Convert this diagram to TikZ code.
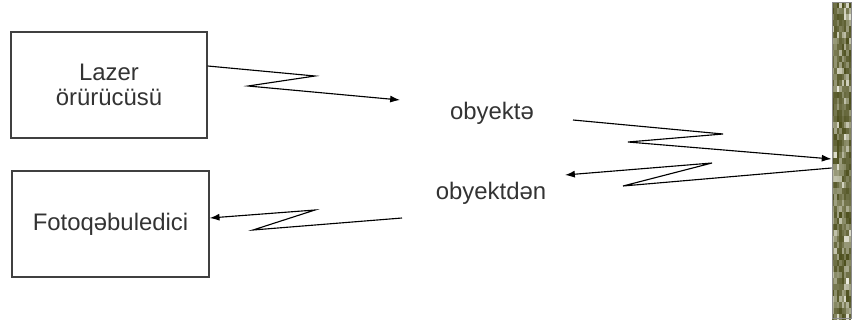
\documentclass[tikz,border=0pt]{standalone}
\usepackage{fontspec}
\setmainfont{Liberation Sans}
\usetikzlibrary{arrows.meta}

\definecolor{wallDark}{RGB}{76,78,28}
\definecolor{wallLight}{RGB}{238,238,226}

\begin{document}
\begin{tikzpicture}[x=0.025cm,y=-0.025cm,>={Latex[length=7pt,width=5pt]},
    every node/.style={font=\fontsize{17}{18}\selectfont, text=black!80},
    unit/.style={draw=black!75, line width=0.9pt, align=center, minimum height=2.65cm},
    beam/.style={->, line width=0.8pt, line join=miter},
    label/.style={inner sep=0pt}]
  \useasboundingbox (0,0) rectangle (853,322);

  % wall texture
  \pgfmathsetseed{11}
  \foreach \i in {0,...,7}{
    \foreach \j in {0,...,52}{
      \pgfmathsetmacro{\mix}{int(100*(rnd)^0.4)}
      \fill[wallDark!\mix!wallLight] (832+2.375*\i,2+6*\j) rectangle ++(2.375,6);
    }
  }

  \node (laser) [unit, minimum width=4.9cm] at (109,85) {Lazer\\örürücüsü};
  \node (receiver) [unit, minimum width=4.925cm] at (110.5,224) {Fotoqəbuledici};
  \node (wall) [draw=black!45, line width=0.6pt, minimum width=0.475cm, minimum height=7.9cm, inner sep=0pt] at (841.5,160) {};
  \node (tolabel) [label] at (492,113) {obyektə};
  \node (fromlabel) [label] at (491,193) {obyektdən};

  \coordinate (laserout) at (400,100);
  \coordinate (objin) at (573,120);
  \coordinate (objout) at (565,175);
  \coordinate (recin) at (402,218);

  \draw[beam] ([yshift=0.475cm]laser.east) -- (315,76) -- (248,86) -- (laserout);
  \draw[beam] (objin) -- (723,134) -- (628,142) -- ([yshift=0.025cm]wall.west);
  \draw[beam] ([yshift=-0.2cm]wall.west) -- (623,186) -- (712,163) -- (objout);
  \draw[beam] (recin) -- (253,230) -- (315,210) -- ([yshift=0.15cm]receiver.east);
\end{tikzpicture}
\end{document}
